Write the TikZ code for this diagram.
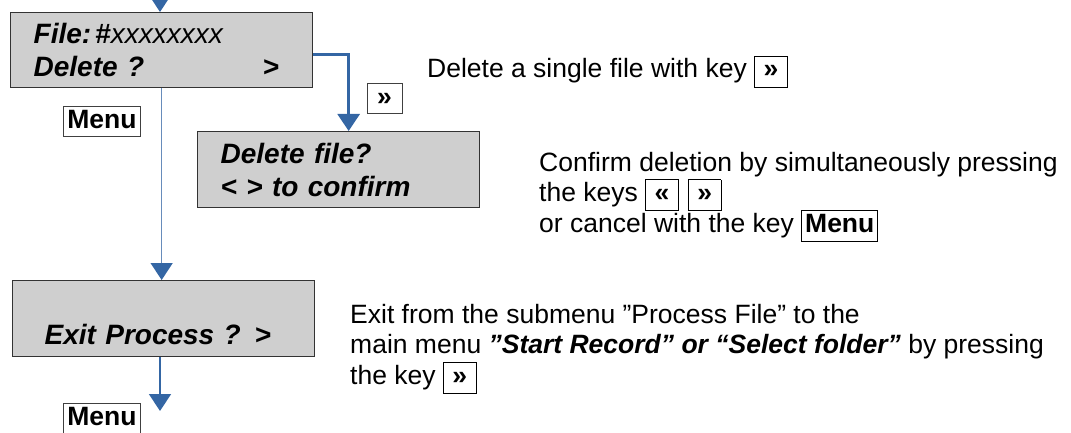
\documentclass[tikz,border=0pt]{standalone}
\usepackage{fontspec}
\setmainfont{Liberation Sans}
\usetikzlibrary{arrows.meta}

\newlength{\keywd}
\setlength{\keywd}{26pt}
\newcommand{\keyin}[1]{{\setlength{\fboxsep}{3pt}\setlength{\fboxrule}{0.8pt}\fbox{\bfseries\vphantom{Mg}#1}}}
\newcommand{\keych}[1]{\keyin{\hbox to \keywd{\hss#1\hss}}}

\begin{document}
\lineskiplimit=-20pt
\begin{tikzpicture}[x=1pt,y=-1pt,
    screen/.style={draw=black!80, line width=1.3pt, fill=color1, anchor=north west,
        inner ysep=0pt, inner xsep=23pt, align=left,
        font=\fontsize{28}{33}\selectfont\bfseries\itshape},
    key/.style={draw=black!75, line width=0.8pt, fill=white, inner xsep=4pt, inner ysep=3pt,
        text height=19pt, text depth=5pt, font=\fontsize{26.5}{30}\selectfont\bfseries},
    flow/.style={color2, line width=1.3pt, -{Triangle[width=22pt,length=17pt,color=color2]}},
    note/.style={anchor=base west, align=left, inner sep=0pt,
        font=\fontsize{26.5}{30.5}\selectfont}]
    \definecolor{color1}{RGB}{207, 207, 207}
    \definecolor{color2}{RGB}{52, 102, 164}

    \useasboundingbox (0,0) rectangle (1071,433);

    % display screens
    \node[screen, text width=256pt, minimum height=75pt] (file) at (10,12)
        {File:\hspace{4pt}\#{\mdseries xxxxxxxx}\\\leavevmode\hbox to 229pt{Delete ?\hss}>};
    \node[screen, text width=236pt, minimum height=76pt] (del) at (197,131)
        {Delete file?\\< > to confirm};
    \node[screen, inner xsep=32pt, text width=238pt, minimum height=76pt] (exit) at (12,280)
        {\phantom{E}\\Exit Process ? >};

    % keys
    \node[key, minimum width=35pt] (right) at (384.5,98.5) {»};
    \node[key] (menu1) at (102,121.5) {Menu};
    \node[key] (menu2) at (102,418) {Menu};

    % arrows
    \coordinate (in) at (160,-20);
    \coordinate (out) at (160,411);
    \draw[flow] (in) -- (in |- file.north);
    \draw[flow, line width=2.8pt] ([yshift=-4.5pt]file.east) -| ([xshift=10pt]del.north);
    \draw[flow, color2!75] (file.south) -- (file.south |- exit.north);
    \draw[flow, line width=1.6pt] (out |- exit.south) -- (out);

    % notes (base = last line)
    \node[note] (delnote) at (427,78) {Delete a single file with key \keych{»}};
    \node[note] (confnote) at (539,232) {Confirm deletion by simultaneously pressing\\
        the keys \keych{«}\hspace{9pt}\keych{»}\\or cancel with the key \keyin{Menu}};
    \node[note] (exitnote) at (350,384) {Exit from the submenu ”Process File” to the\\
        main menu \textbf{\textit{”Start Record” or “Select folder”}} by pressing\\
        the key \keych{»}};
\end{tikzpicture}
\end{document}
